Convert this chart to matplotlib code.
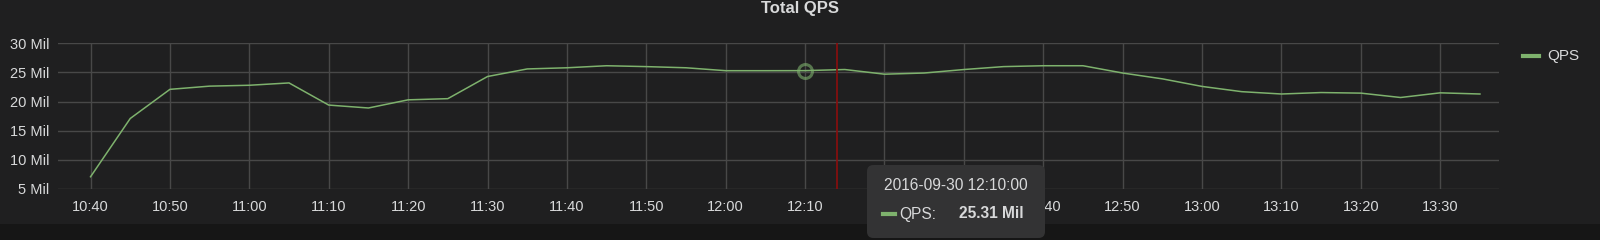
import matplotlib
matplotlib.use('Agg')
import matplotlib.pyplot as plt
import matplotlib.dates as mdates
from matplotlib.patches import FancyBboxPatch, Rectangle
from matplotlib.ticker import FuncFormatter
import pandas as pd

plt.rcParams['font.family'] = ['Liberation Sans', 'DejaVu Sans']

# QPS samples every 5 minutes, in millions
times = pd.date_range('2016-09-30 10:40', '2016-09-30 13:35', freq='5min')
qps = [7.1, 17.1, 22.1, 22.65, 22.8, 23.2, 19.4, 18.9, 20.3, 20.5,
       24.3, 25.6, 25.8, 26.15, 26.0, 25.8, 25.3, 25.3, 25.31, 25.5,
       24.7, 24.9, 25.5, 26.0, 26.15, 26.15, 24.9, 23.9, 22.6, 21.7,
       21.3, 21.55, 21.45, 20.7, 21.5, 21.3]
y_ticks = [5, 10, 15, 20, 25, 30]
hover_time = pd.Timestamp('2016-09-30 12:10:00')
hover_value = 25.31
cursor_time = pd.Timestamp('2016-09-30 12:14:00')

BG = '#1f1f20'
GRID = '#484848'
TEXT = '#d8d9da'
GREEN = '#7eb26d'

fig = plt.figure(figsize=(16, 2.4), dpi=100, facecolor=BG)
fig.patches.append(Rectangle((0, 0), 1, 16 / 240, transform=fig.transFigure,
                             facecolor='#161616', edgecolor='none', zorder=0))
ax = fig.add_axes([58 / 1600, 1 - 189 / 240, (1499 - 58) / 1600, (189 - 43.3) / 240])
ax.set_facecolor(BG)

ax.plot(times, qps, color=GREEN, linewidth=1.1, zorder=3)
ax.plot([hover_time], [hover_value], marker='o', markersize=10, markerfacecolor='none',
        markeredgecolor=GREEN, markeredgewidth=2.2, alpha=0.6, zorder=4)
ax.axvline(cursor_time, color='#8c0d0d', linewidth=1.2, zorder=4)

ax.set_ylim(5, 30)
ax.set_xlim(pd.Timestamp('2016-09-30 10:35:54'), pd.Timestamp('2016-09-30 13:37:24'))
ax.set_yticks(y_ticks)
ax.yaxis.set_major_formatter(FuncFormatter(lambda v, p: f'{int(v)} Mil'))
ax.xaxis.set_major_locator(mdates.MinuteLocator(byminute=range(0, 60, 10)))
ax.xaxis.set_major_formatter(mdates.DateFormatter('%H:%M'))

ax.grid(True, color=GRID, linewidth=1)
ax.set_axisbelow(True)
for s in ax.spines.values():
    s.set_visible(False)
ax.tick_params(length=0, colors=TEXT, labelsize=10.5, pad=8)
ax.tick_params(axis='y', pad=6)

fig.text(0.5, 1 - 9 / 240, 'Total QPS', ha='center', va='center', color=TEXT,
         fontsize=12, fontweight='bold')

# legend
fig.add_artist(plt.Line2D([1523 / 1600, 1539 / 1600], [1 - 56 / 240] * 2,
                          color=GREEN, linewidth=3, transform=fig.transFigure))
fig.text(1547 / 1600, 1 - 56 / 240, 'QPS', ha='left', va='center', color=TEXT, fontsize=11)

# tooltip
tip = FancyBboxPatch((867 / 1600, 1 - 238 / 240), (1045 - 867) / 1600, (238 - 165) / 240,
                     boxstyle='round,pad=0,rounding_size=0.004', transform=fig.transFigure,
                     facecolor='#333334', edgecolor='none', zorder=10, mutation_aspect=6.67)
fig.patches.append(tip)
fig.text(956 / 1600, 1 - 186 / 240, '2016-09-30 12:10:00', ha='center', va='center',
         color=TEXT, fontsize=11.2, zorder=11)
fig.add_artist(plt.Line2D([883 / 1600, 895 / 1600], [1 - 214 / 240] * 2, color=GREEN,
                          linewidth=3, transform=fig.transFigure, zorder=11))
fig.text(899 / 1600, 1 - 214 / 240, 'QPS:', ha='left', va='center', color=TEXT,
         fontsize=11.2, zorder=11)
fig.text(959 / 1600, 1 - 214 / 240, f'{hover_value:.2f} Mil', ha='left', va='center',
         color=TEXT, fontsize=11.2, fontweight='bold', zorder=11)

fig.savefig('out.png', dpi=100, facecolor=BG)
